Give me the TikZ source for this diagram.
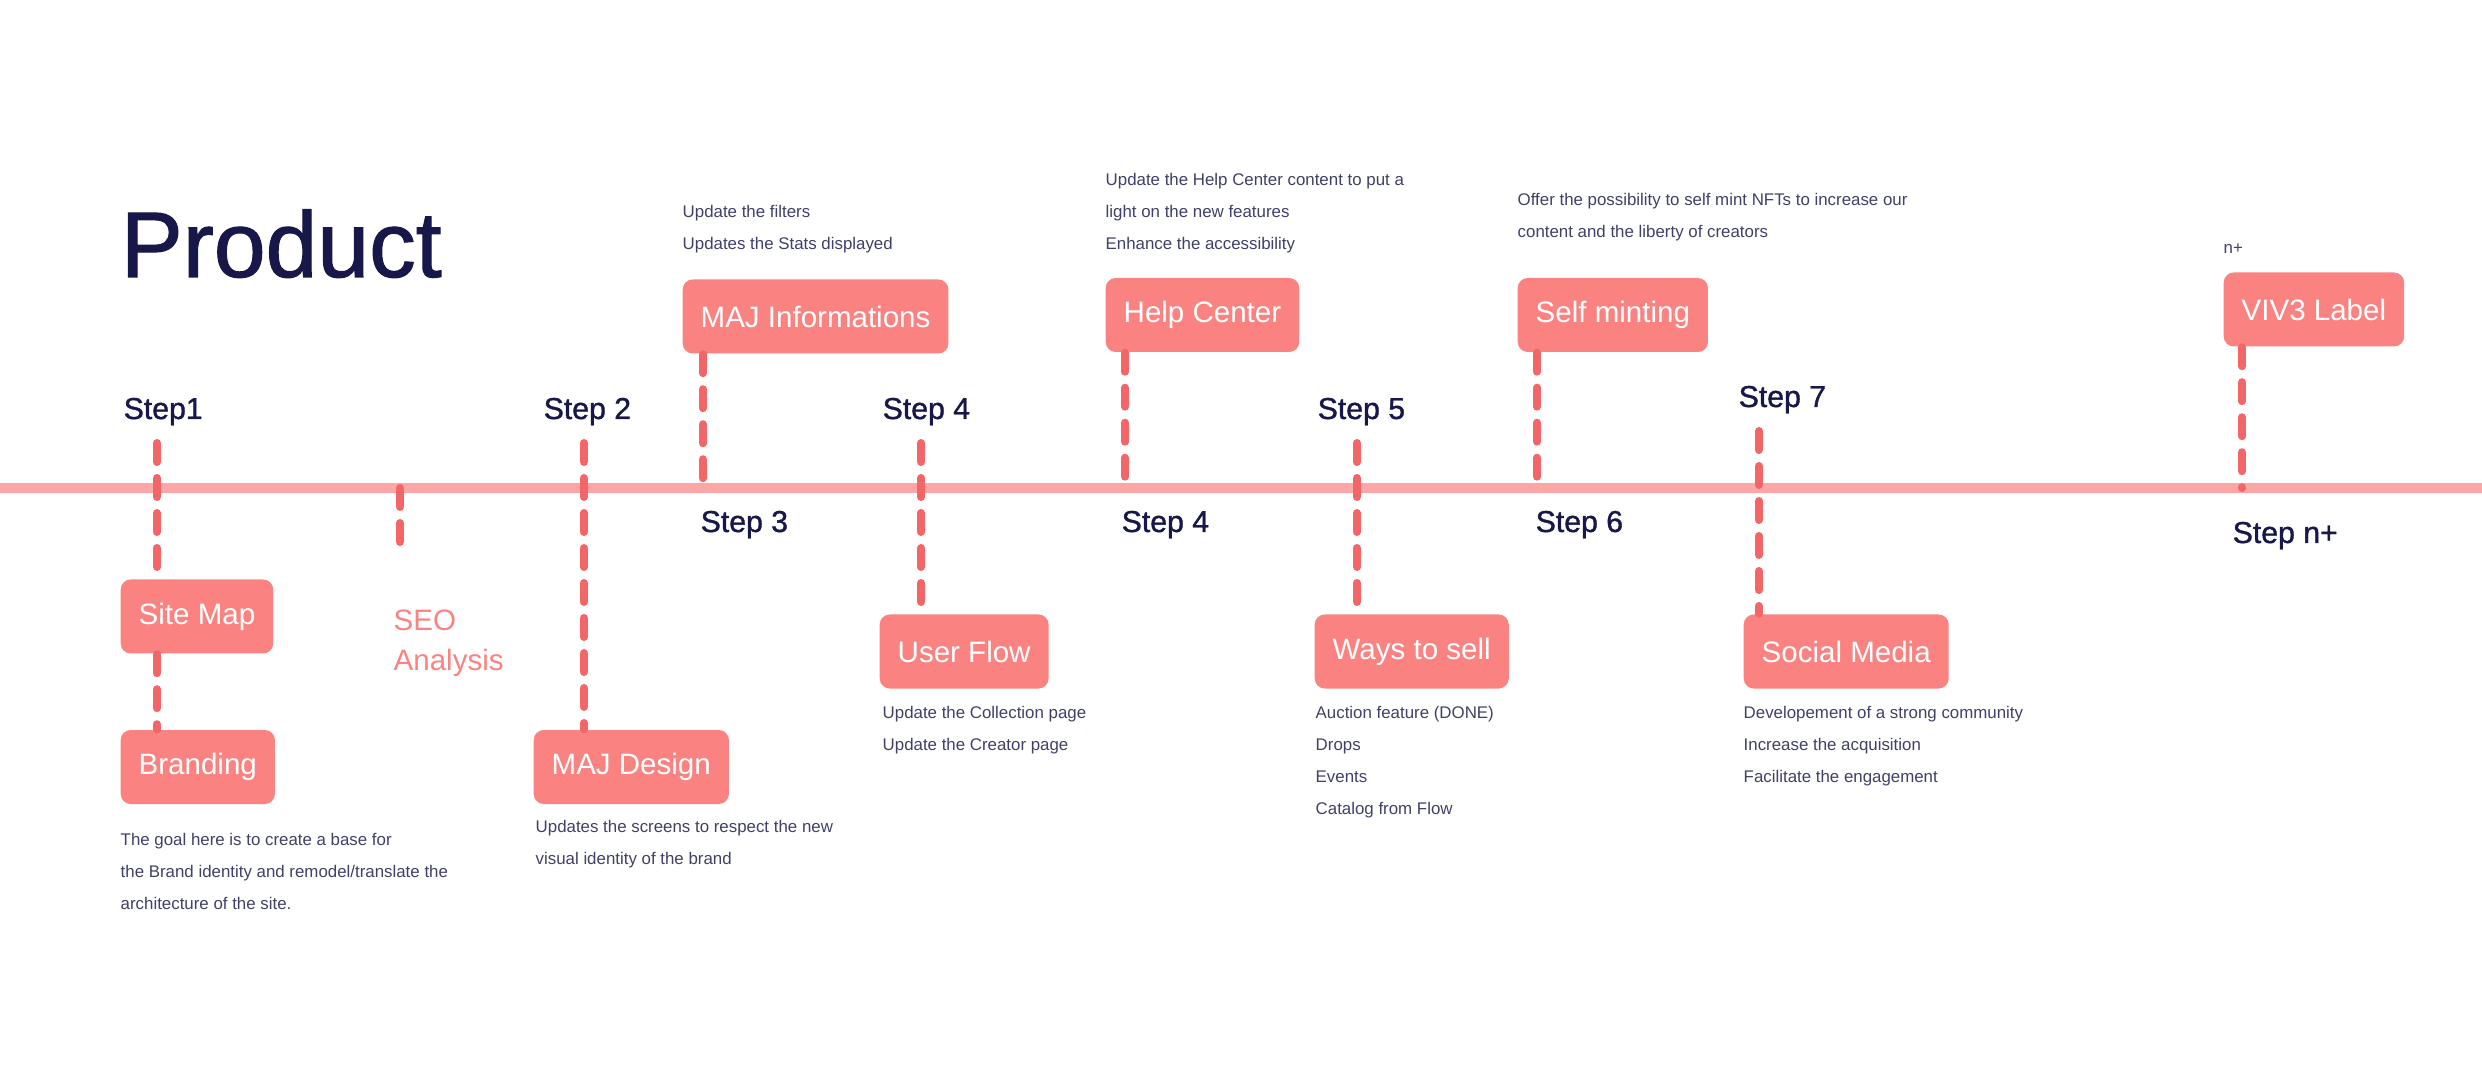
\documentclass[tikz,border=0pt]{standalone}
\usepackage{fontspec}
\setmainfont{Liberation Sans}
\newfontfamily\medfont[FakeBold=1.2]{Liberation Sans}
\usepackage{xcolor}
\usepackage{tikz}
\usetikzlibrary{positioning}
\definecolor{navy}{RGB}{24,23,74}
\definecolor{descgray}{RGB}{64,64,105}
\definecolor{boxred}{RGB}{250,131,129}
\definecolor{dashred}{RGB}{243,102,104}
\definecolor{tlpink}{RGB}{252,166,166}
\tikzset{
  task/.style={fill=boxred, text=white, rounded corners=0.1cm, minimum height=0.74cm,
    inner xsep=0.18cm, anchor=west, font=\fontsize{8.4}{10}\selectfont},
  steplbl/.style={text=navy, inner sep=0, anchor=base west, font=\medfont\fontsize{8.6}{10}\selectfont},
  desc/.style={text=descgray, inner sep=0, anchor=north west, align=left,
    font=\fontsize{4.8}{9.1}\selectfont},
  link/.style={draw=dashred, line width=0.08cm, line cap=round, dash pattern=on 0.19cm off 0.16cm},
}
\begin{document}
\begin{tikzpicture}
  \useasboundingbox (0,0) rectangle (24.82,-10.80);
  % Title
  \node[text=navy, inner sep=0, anchor=base west, font=\medfont\fontsize{26.5}{30}\selectfont] (title) at (1.20,-2.77) {Product};
  % Timeline
  \coordinate (tlW) at (0,-4.88);
  \coordinate (tlE) at (24.82,-4.88);
  \draw[line width=0.1cm, tlpink] (tlW) -- (tlE);
  % Tasks
  \node[task] (sitemap) at (1.20,-6.165) {Site Map};
  \node[task] (branding) at (1.20,-7.67) {Branding};
  \node[task] (majdesign) at (5.33,-7.67) {MAJ Design};
  \node[task] (majinfo) at (6.82,-3.165) {MAJ Informations};
  \node[task] (userflow) at (8.79,-6.515) {User Flow};
  \node[task] (help) at (11.05,-3.15) {Help Center};
  \node[task] (ways) at (13.14,-6.515) {Ways to sell};
  \node[task] (selfmint) at (15.17,-3.15) {Self minting};
  \node[task] (social) at (17.43,-6.515) {Social Media};
  \node[task] (viv) at (22.23,-3.095) {VIV3 Label};
  \node[text=boxred, inner sep=0, anchor=north west, align=left, font=\fontsize{8.4}{11.4}\selectfont] (seo) at (3.93,-6.09) {SEO\\Analysis};
  % Step labels
  \node[steplbl] (s1) at (1.23,-4.19) {Step1};
  \node[steplbl] (s2) at (5.43,-4.19) {Step 2};
  \node[steplbl] (s3) at (7.00,-5.32) {Step 3};
  \node[steplbl] (s4a) at (8.82,-4.19) {Step 4};
  \node[steplbl] (s4b) at (11.21,-5.32) {Step 4};
  \node[steplbl] (s5) at (13.17,-4.19) {Step 5};
  \node[steplbl] (s6) at (15.35,-5.32) {Step 6};
  \node[steplbl] (s7) at (17.38,-4.07) {Step 7};
  \node[steplbl] (sn) at (22.32,-5.43) {Step n+};
  % Descriptions
  \node[desc] (brandingtxt) at (1.20,-8.325) {The goal here is to create a base for\\the Brand identity and remodel/translate the\\architecture of the site.};
  \node[desc] (majdesigntxt) at (5.35,-8.195) {Updates the screens to respect the new\\visual identity of the brand};
  \node[desc] (majinfotxt) at (6.82,-2.045) {Update the filters\\Updates the Stats displayed};
  \node[desc] (userflowtxt) at (8.82,-7.055) {Update the Collection page\\Update the Creator page};
  \node[desc] (helptxt) at (11.05,-1.725) {Update the Help Center content to put a\\light on the new features\\Enhance the accessibility};
  \node[desc] (waystxt) at (13.15,-7.055) {Auction feature (DONE)\\Drops\\Events\\Catalog from Flow};
  \node[desc] (selfminttxt) at (15.17,-1.925) {Offer the possibility to self mint NFTs to increase our\\content and the liberty of creators};
  \node[desc] (socialtxt) at (17.43,-7.055) {Developement of a strong community\\Increase the acquisition\\Facilitate the engagement};
  \node[desc] (vivtxt) at (22.23,-2.435) {n+};
  % Dashed links, upper ends under the step labels
  \coordinate (d1) at (1.57,-4.43);
  \coordinate (d2) at (5.84,-4.43);
  \coordinate (d4) at (9.21,-4.43);
  \coordinate (d5) at (13.57,-4.43);
  \coordinate (d7) at (17.59,-4.31);
  \coordinate (dseo) at (4.00,-4.88);
  \coordinate (dseoend) at (4.00,-5.51);
  \draw[link] (d1) -- (d1 |- sitemap.north);
  \draw[link] (d1 |- sitemap.south) -- (d1 |- branding.north);
  \draw[link] (dseo) -- (dseoend);
  \foreach \from/\to in {d2/majdesign, d4/userflow, d5/ways, d7/social} {
    \draw[link] (\from) -- (\from |- \to.north);
  }
  % Dashed links from the upper boxes down to the timeline
  \coordinate (d3) at (7.03,-4.88);
  \coordinate (dh) at (11.25,-4.88);
  \coordinate (d6) at (15.37,-4.88);
  \coordinate (dn) at (22.42,-4.88);
  \foreach \from/\to in {majinfo/d3, help/dh, selfmint/d6, viv/dn} {
    \draw[link] (\to |- \from.south) -- (\to);
  }
\end{tikzpicture}
\end{document}
